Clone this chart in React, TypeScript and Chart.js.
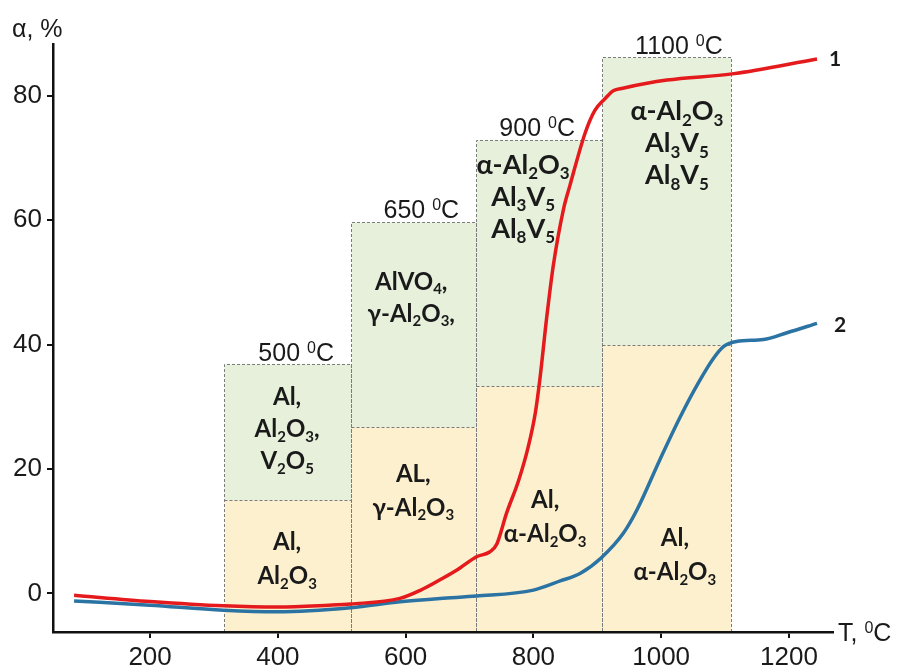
import React, { useEffect, useRef } from "react";
import { Chart, registerables } from "chart.js";

Chart.register(...registerables);

// ---------- data ----------
const xTicks = [200, 400, 600, 800, 1000, 1200];
const yTicks = [0, 20, 40, 60, 80];

const curve1T = [81, 200, 315, 400, 480, 514, 591, 623, 654, 681, 711, 732, 743, 758, 777, 792, 803, 810, 821, 831, 847, 857, 881, 896, 912, 925, 940, 1009, 1111, 1244];
const curve1Alpha = [-0.3, -1.3, -2.0, -2.2, -1.9, -1.7, -0.8, 0.5, 2.2, 3.8, 5.9, 6.7, 8.0, 12.9, 18.2, 23.6, 29.0, 34.3, 44.5, 52.6, 61.7, 65.5, 74.0, 77.6, 79.5, 80.8, 81.2, 82.5, 83.5, 85.9];

const curve2T = [81, 200, 315, 400, 514, 591, 654, 711, 800, 842, 873, 906, 941, 962, 998, 1030, 1058, 1082, 1098, 1118, 1160, 1197, 1244];
const curve2Alpha = [-1.2, -1.9, -2.7, -2.95, -2.3, -1.35, -0.8, -0.43, 0.53, 2.0, 3.2, 5.7, 9.7, 13.4, 21.5, 28.4, 33.8, 37.8, 39.7, 40.5, 40.8, 41.9, 43.4];

const curveLabels = ["1", "2"];

const zoneStartT = [315, 514, 710, 908];
const zoneEndT = [514, 710, 908, 1110];
const zoneTopAlpha = [36.8, 59.7, 72.9, 86.2];
const zoneSplitAlpha = [15.0, 26.7, 33.4, 39.9];
const zoneTempLabels = ["500 ^0C", "650 ^0C", "900 ^0C", "1100 ^0C"];
const zoneUpperPhases = [
  ["Al,", "Al_2O_3,", "V_2O_5"],
  ["AlVO_4,", "γ-Al_2O_3,"],
  ["α-Al_2O_3", "Al_3V_5", "Al_8V_5"],
  ["α-Al_2O_3", "Al_3V_5", "Al_8V_5"],
];
const zoneLowerPhases = [
  ["Al,", "Al_2O_3"],
  ["AL,", "γ-Al_2O_3"],
  ["Al,", "α-Al_2O_3"],
  ["Al,", "α-Al_2O_3"],
];

const yTitle = "α, %";
const xTitle = "T, ^0C";

// ---------- styling / layout ----------
const REG = '"Liberation Sans", Arial, sans-serif';
const BOLD = 'Lato, "Open Sans", sans-serif';
const TEXT = "#1a1a1a";
const GREEN = "#e6f0da";
const YELLOW = "#fdf0cf";
const DASH = "#7c7c7c";

const tempDx = [9, 8, -2, 12];
const upperDx = [0, -2, -16, 10];
const upperDy = [31.7, 59, 24.3, 53.4];
const upperSize = [24, 24, 27, 27];
const lowerDx = [0, 0, 6, 8];
const lowerDy = [41.7, 45.7, 114, 192.5];
const lineGap = 32;

type Seg = { t: string; mode: 0 | 1 | 2 };
function parseRich(s: string): Seg[] {
  const out: Seg[] = [];
  let buf = "";
  for (let i = 0; i < s.length; i++) {
    const c = s[i];
    if ((c === "_" || c === "^") && i + 1 < s.length) {
      if (buf) {
        out.push({ t: buf, mode: 0 });
        buf = "";
      }
      out.push({ t: s[i + 1], mode: c === "_" ? 1 : 2 });
      i++;
    } else buf += c;
  }
  if (buf) out.push({ t: buf, mode: 0 });
  return out;
}

function drawRich(
  ctx: CanvasRenderingContext2D,
  s: string,
  x: number,
  cy: number,
  size: number,
  weight: string,
  family: string,
  align: "center" | "left"
) {
  const segs = parseRich(s);
  const fontFor = (m: number) =>
    `${weight} ${m === 0 ? size : Math.round(size * 0.64)}px ${family}`;
  let w = 0;
  for (const sg of segs) {
    ctx.font = fontFor(sg.mode);
    w += ctx.measureText(sg.t).width;
  }
  let cx = align === "center" ? x - w / 2 : x;
  const base = cy + size * 0.36;
  ctx.fillStyle = TEXT;
  ctx.textAlign = "left";
  ctx.textBaseline = "alphabetic";
  for (const sg of segs) {
    ctx.font = fontFor(sg.mode);
    const dy = sg.mode === 1 ? size * 0.2 : sg.mode === 2 ? -size * 0.32 : 0;
    ctx.fillText(sg.t, cx, base + dy);
    cx += ctx.measureText(sg.t).width;
  }
}

const zonesPlugin = {
  id: "zones",
  beforeDraw(chart: any) {
    const ctx: CanvasRenderingContext2D = chart.ctx;
    const xs = chart.scales.x;
    const ys = chart.scales.y;
    const bottom = chart.chartArea.bottom;
    ctx.save();
    for (let i = 0; i < zoneStartT.length; i++) {
      const x0 = Math.round(xs.getPixelForValue(zoneStartT[i])) + 0.5;
      const x1 = Math.round(xs.getPixelForValue(zoneEndT[i])) + 0.5;
      const yt = Math.round(ys.getPixelForValue(zoneTopAlpha[i])) + 0.5;
      const ysp = Math.round(ys.getPixelForValue(zoneSplitAlpha[i])) + 0.5;
      ctx.fillStyle = GREEN;
      ctx.fillRect(x0, yt, x1 - x0, ysp - yt);
      ctx.fillStyle = YELLOW;
      ctx.fillRect(x0, ysp, x1 - x0, bottom - ysp);
    }
    ctx.setLineDash([3, 2]);
    ctx.strokeStyle = DASH;
    ctx.lineWidth = 1;
    for (let i = 0; i < zoneStartT.length; i++) {
      const x0 = Math.round(xs.getPixelForValue(zoneStartT[i])) + 0.5;
      const x1 = Math.round(xs.getPixelForValue(zoneEndT[i])) + 0.5;
      const yt = Math.round(ys.getPixelForValue(zoneTopAlpha[i])) + 0.5;
      const ysp = Math.round(ys.getPixelForValue(zoneSplitAlpha[i])) + 0.5;
      ctx.beginPath();
      ctx.moveTo(x0, bottom);
      ctx.lineTo(x0, yt);
      ctx.lineTo(x1, yt);
      ctx.lineTo(x1, bottom);
      ctx.moveTo(x0, ysp);
      ctx.lineTo(x1, ysp);
      ctx.stroke();
    }
    ctx.restore();
  },
  afterDatasetsDraw(chart: any) {
    const ctx: CanvasRenderingContext2D = chart.ctx;
    const xs = chart.scales.x;
    const ys = chart.scales.y;
    ctx.save();
    for (let i = 0; i < zoneStartT.length; i++) {
      const x0 = xs.getPixelForValue(zoneStartT[i]);
      const x1 = xs.getPixelForValue(zoneEndT[i]);
      const xc = (x0 + x1) / 2;
      const yt = ys.getPixelForValue(zoneTopAlpha[i]);
      const ysp = ys.getPixelForValue(zoneSplitAlpha[i]);
      drawRich(ctx, zoneTempLabels[i], xc + tempDx[i], yt - 12.5, 25, "normal", REG, "center");
      zoneUpperPhases[i].forEach((line, k) => {
        drawRich(ctx, line, xc + upperDx[i], yt + upperDy[i] + k * lineGap, upperSize[i], "bold", BOLD, "center");
      });
      zoneLowerPhases[i].forEach((line, k) => {
        drawRich(ctx, line, xc + lowerDx[i], ysp + lowerDy[i] + k * (lineGap + 2), 24, "bold", BOLD, "center");
      });
    }
    // curve end labels
    const ends = [
      { t: curve1T[curve1T.length - 1], a: curve1Alpha[curve1Alpha.length - 1], dx: 12, dy: 0 },
      { t: curve2T[curve2T.length - 1], a: curve2Alpha[curve2Alpha.length - 1], dx: 17, dy: 1 },
    ];
    ends.forEach((e, i) => {
      drawRich(ctx, curveLabels[i], xs.getPixelForValue(e.t) + e.dx, ys.getPixelForValue(e.a) + e.dy, 21, "bold", BOLD, "left");
    });
    // axis titles
    drawRich(ctx, yTitle, 12, 28, 25, "normal", REG, "left");
    drawRich(ctx, xTitle, 838, 632, 25, "normal", REG, "left");
    ctx.restore();
  },
};

export default function App() {
  const ref = useRef<HTMLCanvasElement | null>(null);
  useEffect(() => {
    if (!ref.current) return;
    const chart = new Chart(ref.current, {
      type: "line",
      data: {
        datasets: [
          {
            label: curveLabels[0],
            data: curve1T.map((t, i) => ({ x: t, y: curve1Alpha[i] })),
            borderColor: "#e41a1c",
            borderWidth: 3.5,
            pointRadius: 0,
            cubicInterpolationMode: "monotone",
            fill: false,
          },
          {
            label: curveLabels[1],
            data: curve2T.map((t, i) => ({ x: t, y: curve2Alpha[i] })),
            borderColor: "#2a73a3",
            borderWidth: 3.5,
            pointRadius: 0,
            cubicInterpolationMode: "monotone",
            fill: false,
          },
        ],
      },
      options: {
        animation: false,
        responsive: false,
        devicePixelRatio: 1,
        layout: { padding: { top: 44, right: 68, left: 0, bottom: 0 } },
        plugins: { legend: { display: false }, tooltip: { enabled: false } },
        scales: {
          x: {
            type: "linear",
            min: 48,
            max: 1269,
            afterBuildTicks: (s: any) => {
              s.ticks = xTicks.map((v) => ({ value: v }));
            },
            afterFit: (s: any) => {
              s.height = 34;
            },
            grid: { display: true, drawOnChartArea: false, drawTicks: true, tickLength: 6, color: "#111", lineWidth: 2 },
            border: { display: true, color: "#111", width: 2.5 },
            ticks: {
              color: TEXT,
              font: { family: REG, size: 26 },
              padding: 4,
              maxRotation: 0,
              autoSkip: false,
              callback: (v: any) => String(v),
            },
          },
          y: {
            type: "linear",
            min: -6.2,
            max: 88.3,
            afterBuildTicks: (s: any) => {
              s.ticks = yTicks.map((v) => ({ value: v }));
            },
            afterFit: (s: any) => {
              s.width = 53;
            },
            grid: { display: true, drawOnChartArea: false, drawTicks: true, tickLength: 6, color: "#111", lineWidth: 2 },
            border: { display: true, color: "#111", width: 2.5 },
            ticks: { color: TEXT, font: { family: REG, size: 26 }, padding: 5, autoSkip: false, callback: (v: any) => String(v) },
          },
        },
      },
      plugins: [zonesPlugin],
    } as any);
    return () => chart.destroy();
  }, []);
  return (
    <div style={{ position: "absolute", left: 0, top: 0, width: 901, height: 666, background: "#fff" }}>
      <canvas ref={ref} width={901} height={666} />
    </div>
  );
}
